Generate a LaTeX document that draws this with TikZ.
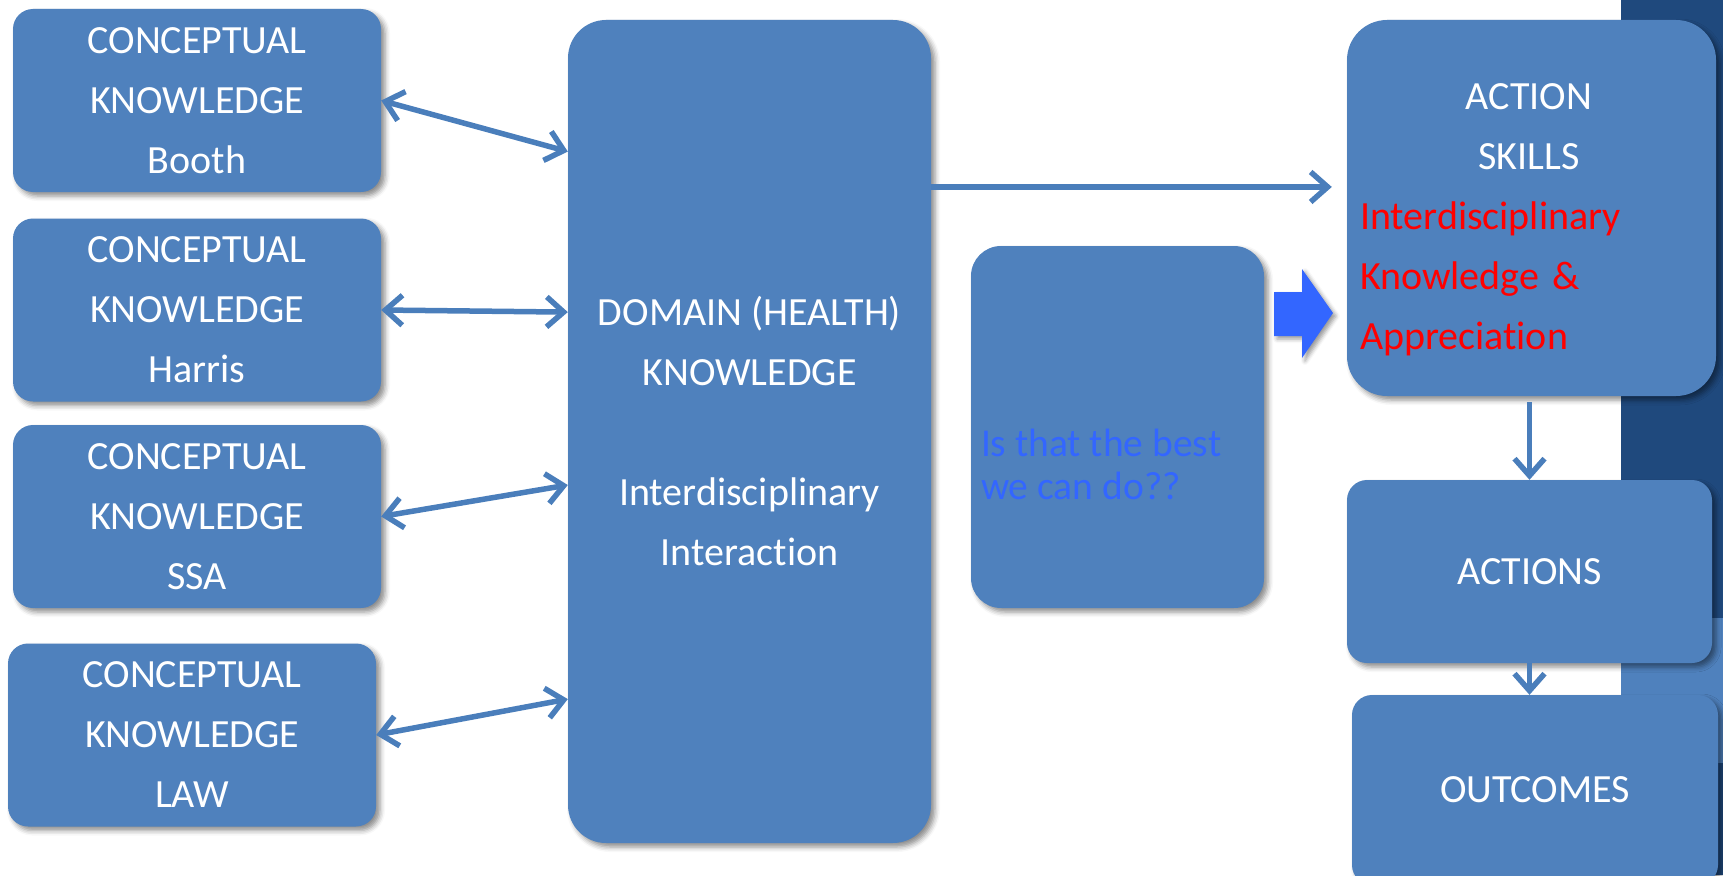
\documentclass[tikz,border=0pt]{standalone}
\usepackage{fontspec}
\setmainfont[Ligatures=NoCommon]{Carlito}
\usetikzlibrary{arrows.meta,shadows.blur,calc}

\definecolor{boxblue}{HTML}{4F81BD}
\definecolor{linkblue}{HTML}{4A7EBB}
\definecolor{navy}{HTML}{1F497D}
\definecolor{brightblue}{HTML}{3366FF}

\tikzset{
  box/.style={fill=boxblue, rounded corners=20pt, inner sep=0pt, text=white,
    align=center, font=\fontsize{40}{60}\selectfont,
    minimum width=368pt, minimum height=183pt,
    blur shadow={shadow xshift=4pt, shadow yshift=-4pt,
      shadow blur radius=5pt, shadow opacity=45}},
  link/.style={draw=linkblue, line width=5.5pt, -{Straight Barb[length=17pt,width=30pt]}},
  twoway/.style={link, {Straight Barb[length=17pt,width=30pt]}-{Straight Barb[length=17pt,width=30pt]}},
}

\begin{document}
\begin{tikzpicture}[x=1pt,y=-1pt]
\useasboundingbox (0,0) rectangle (1723,875);

% slide strip on the right
\fill[navy] (1621,0) rectangle (1723,618);
\fill[boxblue] (1621,618) rectangle (1723,763);
\fill[navy] (1621,763) rectangle (1723,875);

% conceptual knowledge boxes
\node[box] (booth) at (197,100.5) {CONCEPTUAL\\KNOWLEDGE\\Booth};
\node[box] (harris) at (197,310) {CONCEPTUAL\\KNOWLEDGE\\Harris};
\node[box] (ssa) at (197,516.5) {CONCEPTUAL\\KNOWLEDGE\\SSA};
\node[box] (law) at (192,735) {CONCEPTUAL\\KNOWLEDGE\\LAW};

% domain knowledge
\node[box, rounded corners=38pt, minimum width=363pt, minimum height=823pt] (domain)
  at (749.5,431.5) {DOMAIN (HEALTH)\\KNOWLEDGE\\[60pt]Interdisciplinary\\Interaction};

% the question
\node[box, rounded corners=30pt, minimum width=293pt, minimum height=362pt] (query)
  at (1117.5,427) {};
\node[anchor=west, text=brightblue, align=left, inner sep=0pt,
  font=\fontsize{39.5}{43}\selectfont] (queryTxt)
  at ([xshift=10pt,yshift=-37pt]query.west) {Is that the best\\we can do??};

% right column
\node[box, rounded corners=40pt, minimum width=369pt, minimum height=376pt] (skills)
  at (1531.5,208) {};
\node[text width=338pt, align=left, inner sep=0pt, text=white,
  font=\fontsize{40}{60}\selectfont] (skillsTxt)
  at ([xshift=-2.5pt,yshift=-12pt]skills.center)
  {\makebox[\hsize]{ACTION}\\\makebox[\hsize]{SKILLS}\\
   \color{red}Interdisciplinary\\Knowledge \&\\Appreciation};
\node[box, minimum width=365pt] (actions) at (1529.5,571.5) {ACTIONS};
\node[box, minimum width=366pt, minimum height=190pt] (outcomes) at (1535,790) {OUTCOMES};

% block arrow towards the skills
\fill[brightblue, blur shadow={shadow xshift=3pt, shadow yshift=-3pt,
    shadow blur radius=4pt, shadow opacity=40}]
  (1274,292) -- (1302,292) -- (1302,269) -- (1333,313) -- (1302,358)
  -- (1302,336) -- (1274,336) -- cycle;

% connectors
\coordinate (d1) at ($(domain.north west)!.160!(domain.south west)$);
\coordinate (d2) at ($(domain.north west)!.355!(domain.south west)$);
\coordinate (d3) at ($(domain.north west)!.565!(domain.south west)$);
\coordinate (d4) at ($(domain.north west)!.825!(domain.south west)$);
\coordinate (d5) at ($(domain.north east)!.203!(domain.south east)$);

\draw[twoway] (booth.east) -- (d1);
\draw[twoway] (harris.east) -- (d2);
\draw[twoway] (ssa.east) -- (d3);
\draw[twoway] (law.east) -- (d4);
\draw[link, shorten >=15pt] (d5) -- (d5 -| skills.west);
\draw[link, shorten <=6pt] (skills.south -| actions.north) -- (actions.north);
\draw[link] (actions.south) -- (actions.south |- outcomes.north);

\end{tikzpicture}
\end{document}
